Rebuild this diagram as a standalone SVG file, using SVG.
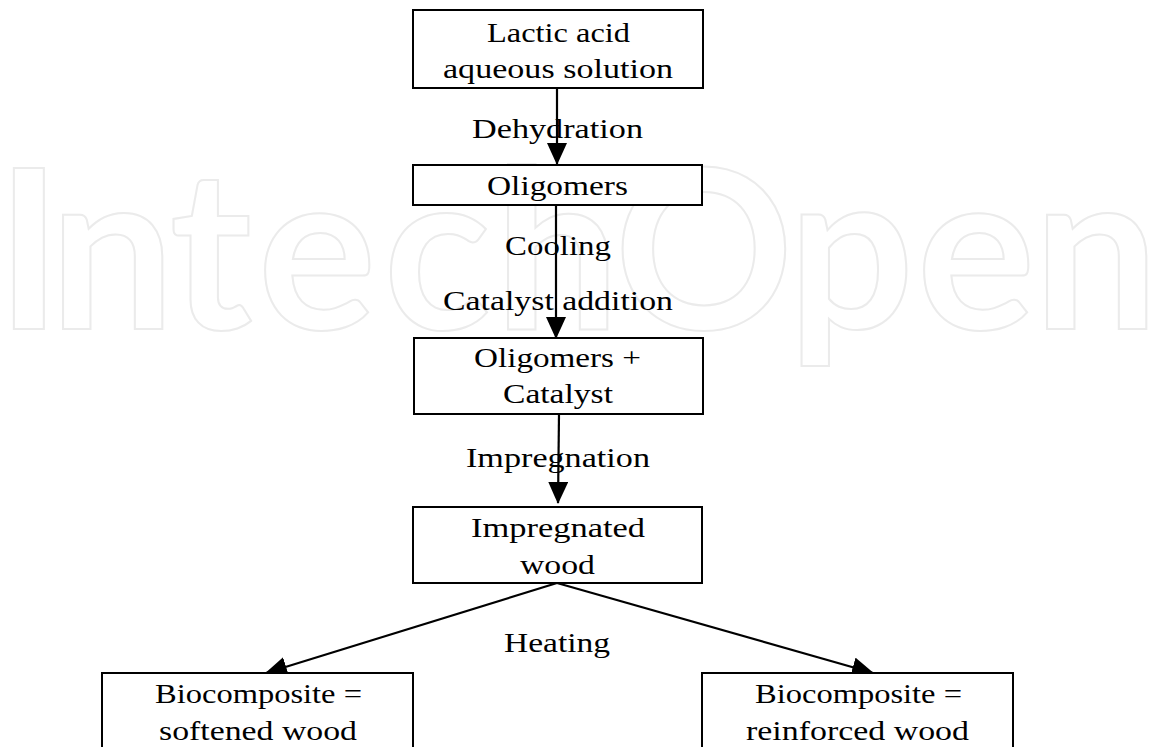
<svg xmlns="http://www.w3.org/2000/svg" width="1150" height="747" viewBox="0 0 1150 747">
<style>
.wm{font-family:Lato,"Open Sans",sans-serif;font-weight:700;font-size:222px;fill:none;stroke:#ebebeb;stroke-width:2;text-anchor:middle}
.box{fill:#fff;stroke:#000;stroke-width:2}
.t{font-family:"Liberation Serif",serif;font-size:27px;fill:#000;text-anchor:middle}
.c{stroke:#000;stroke-width:2.2;fill:none}
</style>
<defs>
<marker id="ah" markerUnits="userSpaceOnUse" markerWidth="22" markerHeight="20" refX="21" refY="10" orient="auto" viewBox="0 0 22 20">
<path d="M0,0 L22,10 L0,20 Z" fill="#000"/>
</marker>
</defs>
<rect width="1150" height="747" fill="#fff"/>
<g id="watermark">
<text class="wm" x="29" y="329">I</text>
<text class="wm" x="112" y="329">n</text>
<text class="wm" x="211" y="329">t</text>
<text class="wm" x="317" y="329">e</text>
<text class="wm" x="437" y="329">c</text>
<text class="wm" x="557" y="329">h</text>
<text class="wm" x="704" y="329">O</text>
<text class="wm" x="851" y="329">p</text>
<text class="wm" x="976" y="329">e</text>
<text class="wm" x="1096" y="329">n</text>
</g>
<g id="connectors">
<line class="c" x1="557" y1="88" x2="557" y2="164" marker-end="url(#ah)"/>
<line class="c" x1="556" y1="205" x2="556" y2="338" marker-end="url(#ah)"/>
<line class="c" x1="559" y1="414" x2="558" y2="503" marker-end="url(#ah)"/>
<line class="c" x1="557" y1="583" x2="266" y2="673" marker-end="url(#ah)"/>
<line class="c" x1="557" y1="583" x2="873" y2="673" marker-end="url(#ah)"/>
<text class="t" x="557.5" y="138" textLength="171" lengthAdjust="spacingAndGlyphs">Dehydration</text>
<text class="t" x="558" y="255" textLength="106" lengthAdjust="spacingAndGlyphs">Cooling</text>
<text class="t" x="558" y="310" textLength="230" lengthAdjust="spacingAndGlyphs">Catalyst addition</text>
<text class="t" x="558" y="467" textLength="184" lengthAdjust="spacingAndGlyphs">Impregnation</text>
<text class="t" x="557" y="652" textLength="106" lengthAdjust="spacingAndGlyphs">Heating</text>
</g>
<g id="n1">
<rect class="box" x="413" y="10" width="290" height="78"/>
<text class="t" x="558.5" y="42" textLength="143" lengthAdjust="spacingAndGlyphs">Lactic acid</text>
<text class="t" x="558" y="78" textLength="230" lengthAdjust="spacingAndGlyphs">aqueous solution</text>
</g>
<g id="n2">
<rect class="box" x="413" y="165" width="289" height="40"/>
<text class="t" x="557.5" y="195" textLength="141" lengthAdjust="spacingAndGlyphs">Oligomers</text>
</g>
<g id="n3">
<rect class="box" x="414" y="338" width="289" height="76"/>
<text class="t" x="557.5" y="367" textLength="167" lengthAdjust="spacingAndGlyphs">Oligomers +</text>
<text class="t" x="558" y="403" textLength="110" lengthAdjust="spacingAndGlyphs">Catalyst</text>
</g>
<g id="n4">
<rect class="box" x="413" y="507" width="289" height="76"/>
<text class="t" x="558" y="537" textLength="174" lengthAdjust="spacingAndGlyphs">Impregnated</text>
<text class="t" x="557.5" y="574" textLength="75" lengthAdjust="spacingAndGlyphs">wood</text>
</g>
<g id="n5">
<rect class="box" x="102" y="673" width="311" height="90"/>
<text class="t" x="258.5" y="703" textLength="207" lengthAdjust="spacingAndGlyphs">Biocomposite =</text>
<text class="t" x="258" y="740" textLength="198" lengthAdjust="spacingAndGlyphs">softened wood</text>
</g>
<g id="n6">
<rect class="box" x="702" y="673" width="311" height="90"/>
<text class="t" x="858.5" y="703" textLength="207" lengthAdjust="spacingAndGlyphs">Biocomposite =</text>
<text class="t" x="857.5" y="740" textLength="223" lengthAdjust="spacingAndGlyphs">reinforced wood</text>
</g>
</svg>
